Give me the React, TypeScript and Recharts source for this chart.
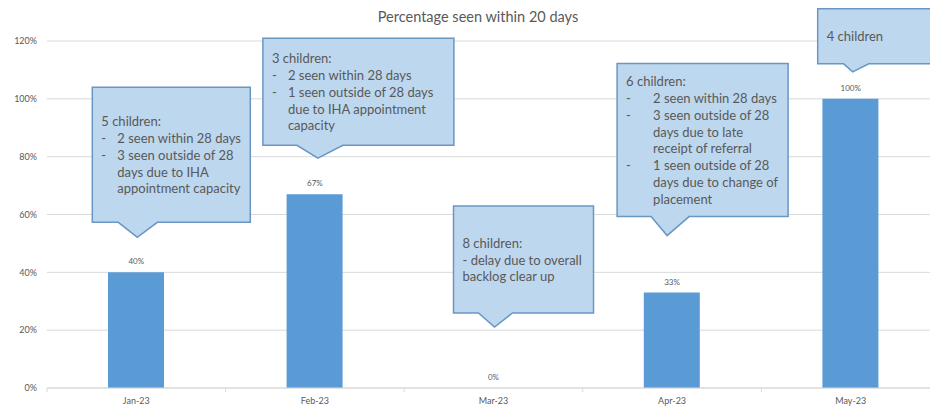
import { BarChart, Bar, XAxis, YAxis, CartesianGrid, ReferenceDot } from 'recharts';

const months = ['Jan-23', 'Feb-23', 'Mar-23', 'Apr-23', 'May-23'];
const seenPct = [40, 67, 0, 33, 100];
const yTicks = [0, 20, 40, 60, 80, 100, 120];

// "-\t" = dash bullet, "\t" = indented continuation line
const notes: string[][] = [
  [
    '5 children:',
    '-\t2 seen within 28 days',
    '-\t3 seen outside of 28',
    '\tdays due to IHA',
    '\tappointment capacity',
  ],
  [
    '3 children:',
    '-\t2 seen within 28 days',
    '-\t1 seen outside of 28 days',
    '\tdue to IHA appointment',
    '\tcapacity',
  ],
  ['8 children:', '- delay due to overall', 'backlog clear up'],
  [
    '6 children:',
    '-\t2 seen within 28 days',
    '-\t3 seen outside of 28',
    '\tdays due to late',
    '\treceipt of referral',
    '-\t1 seen outside of 28',
    '\tdays due to change of',
    '\tplacement',
  ],
  ['4 children'],
];

// callout geometry, relative to the pointer tip
const calloutLayout = [
  { dx: 1, gap: 35, left: -45, w: 158, h: 135, ptr: 15, bl: -19, br: 20, indent: 16 },
  { dx: 3, gap: 36, left: -55, w: 191, h: 107, ptr: 13, bl: -21, br: 25, indent: 16 },
  { dx: 1, gap: 61, left: -41, w: 140, h: 107, ptr: 14, bl: -16, br: 18, indent: 16 },
  { dx: -5, gap: 57, left: -50, w: 171, h: 153, ptr: 19, bl: -16, br: 22, indent: 27 },
  { dx: 2, gap: 27, left: -35, w: 118, h: 55, ptr: 8, bl: -9, br: 16, indent: 16 },
];

const data = months.map((m, i) => ({ month: m, pct: seenPct[i] }));

const FONT = 'Lato, "Open Sans", sans-serif';
const GREY = '#595959';
const AXIS = '#d9d9d9';
const LINE_H = 16.8;

const CHART_W = 940;
const Y_AXIS_W = 47;
const BAND = (CHART_W - Y_AXIS_W) / months.length;

function NoteText({ x, y, children }: { x: number; y: number; children: any }) {
  return (
    <text x={x} y={y} dominantBaseline="central" fontSize={13} fill={GREY} fontFamily={FONT}>
      {children}
    </text>
  );
}

// month label, plus the small tick marks sitting on the category boundaries
function MonthTick(props: any) {
  const { x, y, payload, index } = props;
  return (
    <g>
      {index === 0 && <line x1={x - BAND / 2} x2={x - BAND / 2} y1={y - 8} y2={y - 4} stroke={AXIS} />}
      <line x1={x + BAND / 2} x2={x + BAND / 2} y1={y - 8} y2={y - 4} stroke={AXIS} />
      <text x={x} y={y} dy={8} textAnchor="middle" fontSize={9} fill={GREY} fontFamily={FONT}>
        {payload.value}
      </text>
    </g>
  );
}

// value label + callout box hanging over the top of each bar
function Callout({ cx, cy, i }: { cx?: number; cy?: number; i: number }) {
  const lay = calloutLayout[i];
  const lines = notes[i];
  if (cx == null || cy == null || !lay || !lines) return null;

  const tipX = cx + lay.dx;
  const tipY = cy - lay.gap;
  const bottom = tipY - lay.ptr;
  const top = bottom - lay.h;
  const left = tipX + lay.left;
  const right = left + lay.w;

  const path = `M${left},${top} H${right} V${bottom} H${tipX + lay.br} L${tipX},${tipY} L${tipX + lay.bl},${bottom} H${left} Z`;

  const textX = left + 9;
  const firstY = top + lay.h / 2 - ((lines.length - 1) * LINE_H) / 2;

  return (
    <g>
      <text x={cx} y={cy - 8} textAnchor="middle" fontSize={8} fill={GREY} fontFamily={FONT}>
        {`${seenPct[i]}%`}
      </text>
      <path d={path} fill="#bdd7ee" stroke="#6a96c3" strokeWidth={1.5} />
      {lines.map((ln, k) => {
        const y = firstY + k * LINE_H;
        const parts = ln.split('\t');
        if (parts.length === 1) {
          return <NoteText key={k} x={textX} y={y}>{ln}</NoteText>;
        }
        return (
          <g key={k}>
            {parts[0] && <NoteText x={textX} y={y}>{parts[0]}</NoteText>}
            <NoteText x={textX + lay.indent} y={y}>{parts[1]}</NoteText>
          </g>
        );
      })}
    </g>
  );
}

export default function App() {
  return (
    <div
      style={{
        position: 'fixed',
        left: 0,
        top: 0,
        width: 930,
        height: 408,
        overflow: 'hidden',
        background: '#fff',
        fontFamily: FONT,
      }}
    >
      <div
        style={{
          position: 'absolute',
          left: 0,
          width: 956,
          top: 8,
          textAlign: 'center',
          fontSize: 14.5,
          color: GREY,
        }}
      >
        Percentage seen within 20 days
      </div>
      <BarChart
        width={CHART_W}
        height={408}
        data={data}
        margin={{ top: 41, right: 0, bottom: 0, left: 0 }}
        barSize={56}
        style={{ position: 'relative' }}
      >
        <CartesianGrid vertical={false} stroke={AXIS} />
        <XAxis
          dataKey="month"
          height={20}
          tickSize={0}
          tickMargin={8}
          axisLine={{ stroke: AXIS }}
          tick={<MonthTick />}
        />
        <YAxis
          width={Y_AXIS_W}
          domain={[0, 120]}
          ticks={yTicks}
          tickFormatter={(v) => `${v}%`}
          axisLine={false}
          tickLine={false}
          tickSize={0}
          tickMargin={10}
          tick={{ fontSize: 9, fill: GREY, fontFamily: FONT }}
        />
        <Bar dataKey="pct" fill="#5b9bd5" isAnimationActive={false} />
        {data.map((d, i) => (
          <ReferenceDot
            key={d.month}
            x={d.month}
            y={d.pct}
            ifOverflow="visible"
            shape={(p: any) => <Callout cx={p.cx} cy={p.cy} i={i} />}
          />
        ))}
      </BarChart>
    </div>
  );
}
